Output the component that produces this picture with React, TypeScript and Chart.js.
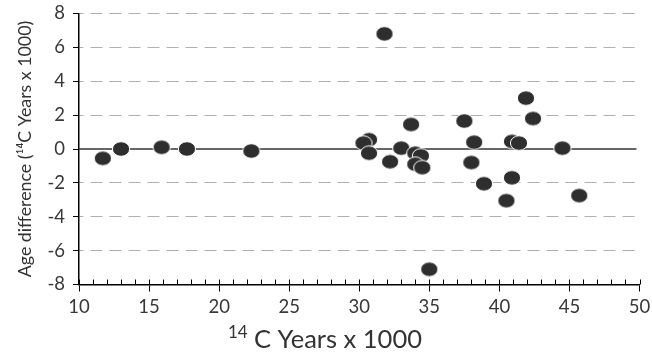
import React, { useEffect, useRef } from "react";
import { Chart, registerables } from "chart.js";

Chart.register(...registerables);

const xValues = [11.7, 13.0, 15.9, 17.7, 22.3, 31.8, 30.7, 30.3, 30.7, 32.2, 33.0, 33.7, 34.0, 34.4, 34.0, 34.5, 35.0, 37.5, 38.2, 38.0, 38.9, 40.5, 40.9, 40.9, 41.4, 41.9, 42.4, 44.5, 45.7];
const yValues = [-0.55, 0.0, 0.1, 0.0, -0.12, 6.8, 0.55, 0.35, -0.25, -0.75, 0.05, 1.45, -0.25, -0.4, -0.9, -1.1, -7.1, 1.65, 0.4, -0.8, -2.05, -3.05, -1.7, 0.45, 0.35, 3.0, 1.8, 0.05, -2.75];
const yTicks = [-8, -6, -4, -2, 0, 2, 4, 6, 8];
const xTickLabels = [10, 15, 20, 25, 30, 35, 40, 45, 50];
const yTitle = "Age difference (\u00B9\u2074C Years x 1000)";
const xTitleSup = "14";
const xTitleMain = "C Years x 1000";

const FONT = "Lato, 'Open Sans', sans-serif";
const TEXT = "#383838";

function makeEllipse(): HTMLCanvasElement {
  const c = document.createElement("canvas");
  c.width = 20;
  c.height = 18;
  const g = c.getContext("2d")!;
  g.beginPath();
  g.ellipse(10, 9, 8.6, 7.3, 0, 0, Math.PI * 2);
  g.fillStyle = "#2e2e2e";
  g.fill();
  g.lineWidth = 1;
  g.strokeStyle = "#ffffff";
  g.stroke();
  return c;
}

export default function App() {
  const ref = useRef<HTMLCanvasElement>(null);
  useEffect(() => {
    document.body.style.margin = "0";
    const canvas = ref.current!;
    const ellipse = makeEllipse();
    const data = xValues.map((x, i) => ({ x, y: yValues[i] }));

    const extras = {
      id: "extras",
      beforeDatasetsDraw(chart: any) {
        const { ctx, chartArea, scales } = chart;
        const y0 = scales.y.getPixelForValue(0);
        ctx.save();
        ctx.strokeStyle = "#333333";
        ctx.lineWidth = 1.5;
        ctx.beginPath();
        ctx.moveTo(chartArea.left, y0);
        ctx.lineTo(chartArea.right - 3, y0);
        ctx.stroke();
        ctx.restore();
      },
      afterDraw(chart: any) {
        const { ctx, chartArea, scales } = chart;
        const xs = scales.x;
        const yb = chartArea.bottom;
        ctx.save();
        ctx.strokeStyle = "#000";
        ctx.lineWidth = 1;
        ctx.beginPath();
        for (let v = xs.min; v <= xs.max; v += 1) {
          const px = Math.round(xs.getPixelForValue(v)) + 0.5;
          ctx.moveTo(px, yb);
          ctx.lineTo(px, yb - 5);
        }
        ctx.stroke();
        ctx.fillStyle = "#333333";
        ctx.textBaseline = "alphabetic";
        ctx.textAlign = "left";
        ctx.font = "17px " + FONT;
        ctx.fillText(xTitleSup, 228, 338);
        ctx.font = "25.5px " + FONT;
        ctx.fillText(xTitleMain, 254, 348);
        ctx.restore();
      },
    };

    const chart = new Chart(canvas, {
      type: "scatter",
      data: {
        datasets: [
          {
            data,
            pointStyle: ellipse as any,
            pointRadius: 8,
            backgroundColor: "#2e2e2e",
            borderColor: "#ffffff",
          },
        ],
      },
      plugins: [extras],
      options: {
        animation: false,
        responsive: false,
        maintainAspectRatio: false,
        layout: { padding: { top: 13.5, right: 12.5, left: 0, bottom: 0 } },
        plugins: { legend: { display: false }, tooltip: { enabled: false } },
        scales: {
          x: {
            type: "linear",
            min: 10,
            max: 50,
            afterFit: (s: any) => {
              s.height = 68.5;
              s.paddingLeft = 0;
              s.paddingRight = 0;
            },
            afterBuildTicks: (s: any) => {
              s.ticks = xTickLabels.map((v) => ({ value: v }));
            },
            ticks: {
              font: { family: FONT, size: 18.5 },
              color: TEXT,
              padding: 4,
              maxRotation: 0,
              autoSkip: false,
            },
            grid: {
              display: true,
              drawOnChartArea: false,
              drawTicks: true,
              tickLength: 7,
              color: "#000",
              tickColor: "#000",
            },
            border: { display: true, color: "#000", width: 1.5 },
          },
          y: {
            type: "linear",
            min: -8,
            max: 8,
            afterFit: (s: any) => {
              s.width = 79;
              s.paddingTop = 0;
              s.paddingBottom = 0;
            },
            afterBuildTicks: (s: any) => {
              s.ticks = yTicks.map((v) => ({ value: v }));
            },
            ticks: {
              font: { family: FONT, size: 18.5 },
              color: TEXT,
              padding: 8,
              autoSkip: false,
            },
            grid: {
              display: true,
              drawOnChartArea: true,
              drawTicks: true,
              tickLength: 6,
              lineWidth: 1,
              color: (c: any) => (c.tick && (c.tick.value === 0 || c.tick.value === -8) ? "rgba(0,0,0,0)" : "#b0b0b0"),
              tickColor: "#000",
            },
            border: { display: true, color: "#000", width: 1.5, dash: [12, 7], dashOffset: 8 },
            title: {
              display: true,
              text: yTitle,
              font: { family: FONT, size: 17.8 },
              color: "#333333",
              padding: { top: 15, bottom: 0 },
            },
          },
        },
      },
    });
    return () => chart.destroy();
  }, []);

  return (
    <div style={{ width: 652, height: 353 }}>
      <canvas ref={ref} width={652} height={353} style={{ display: "block", width: 652, height: 353 }} />
    </div>
  );
}
